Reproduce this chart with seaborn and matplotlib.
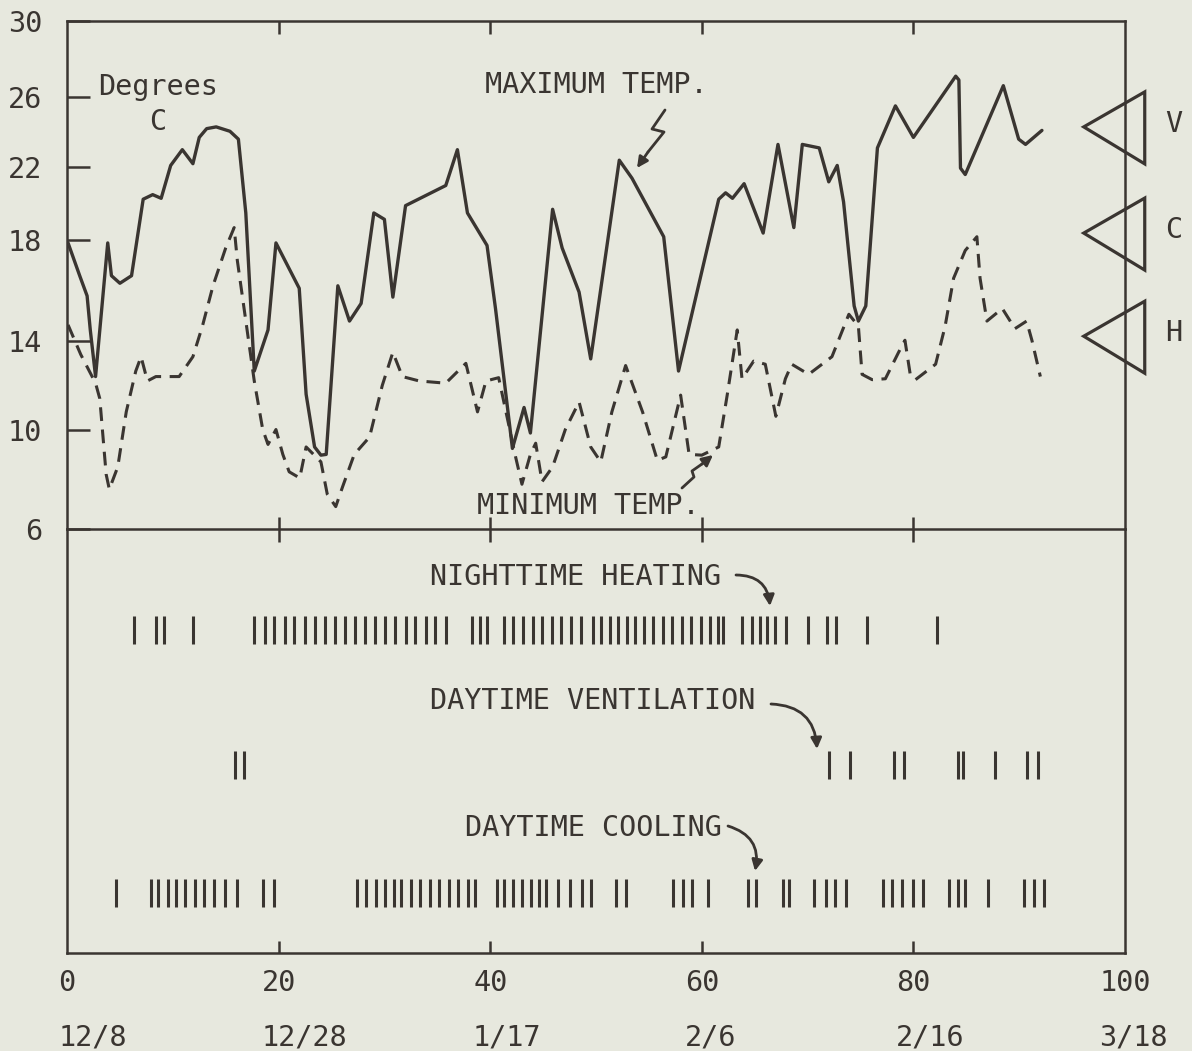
import numpy as np
import matplotlib
matplotlib.use("Agg")
import matplotlib.pyplot as plt
import seaborn as sns
from matplotlib.patches import Polygon
from matplotlib.lines import Line2D
from matplotlib import transforms

# ---- data (x = day, y = degrees C) ----
max_day = [0.1, 1.2, 1.9, 2.2, 2.7, 3.85, 4.2, 5.0, 6.1, 7.2, 8.1, 8.9, 9.8, 10.9, 11.9, 12.5,
           13.2, 14.1, 15.4, 16.2, 16.9, 17.7, 19.0, 19.75, 21.95, 22.6, 23.4, 24.0, 24.5, 25.6,
           26.7, 27.8, 29.0, 30.0, 30.8, 32.0, 35.8, 36.9, 37.85, 39.7, 40.5, 42.1, 43.2, 43.8,
           45.9, 46.8, 48.4, 49.5, 52.2, 53.4, 56.4, 57.8, 61.6, 62.25, 62.9, 64.0, 65.8, 67.2,
           68.7, 69.5, 71.1, 72.0, 72.8, 73.4, 74.4, 74.8, 75.5, 76.6, 78.3, 80.0, 84.0, 84.3,
           84.45, 84.9, 88.5, 89.95, 90.6, 92.15]
max_temp = [17.9, 16.6, 15.8, 14.45, 12.4, 17.9, 16.6, 16.3, 16.6, 20.25, 20.5, 20.3, 22.1, 23.0,
            22.2, 23.7, 24.2, 24.3, 24.05, 23.6, 19.5, 12.65, 14.45, 17.9, 16.1, 11.6, 9.3, 8.97,
            9.0, 16.2, 14.8, 15.5, 19.5, 19.15, 15.75, 19.9, 21.0, 23.0, 19.5, 17.8, 15.3, 9.24,
            11.0, 9.86, 19.7, 17.7, 15.95, 13.2, 22.4, 21.4, 18.2, 12.65, 20.25, 20.6, 20.3, 21.1,
            18.4, 23.3, 18.7, 23.3, 23.1, 21.2, 22.1, 20.1, 15.4, 14.8, 15.4, 23.1, 25.5, 23.7,
            27.1, 26.9, 21.95, 21.6, 26.6, 23.6, 23.3, 24.1]

min_day = [0.1, 1.3, 2.7, 3.1, 3.7, 4.0, 4.8, 5.6, 6.5, 7.0, 7.6, 8.4, 10.6, 11.9, 12.8, 13.8,
           15.0, 15.8, 16.1, 17.7, 18.5, 19.0, 19.75, 20.4, 21.0, 22.0, 22.6, 24.0, 24.6, 25.4,
           26.05, 27.15, 28.6, 29.8, 30.8, 31.7, 33.3, 35.8, 37.7, 38.8, 39.6, 40.8, 42.4, 43.0,
           43.8, 44.3, 44.9, 45.9, 47.1, 48.4, 49.5, 50.45, 51.5, 52.8, 54.4, 55.8, 56.6, 58.0,
           58.8, 60.0, 61.6, 62.4, 63.35, 63.8, 64.9, 66.0, 67.0, 67.9, 68.5, 70.1, 72.3, 73.9,
           74.8, 75.15, 76.1, 77.35, 78.6, 79.2, 79.7, 80.2, 82.1, 83.0, 83.8, 84.9, 86.0, 86.3,
           86.95, 88.4, 89.6, 90.7, 91.2, 92.0]
min_temp = [14.65, 13.4, 12.1, 11.4, 8.2, 7.6, 8.5, 10.8, 12.65, 13.3, 12.2, 12.4, 12.4, 13.3,
            14.6, 16.2, 17.7, 18.7, 17.2, 12.2, 10.0, 9.4, 10.0, 9.0, 8.3, 8.05, 9.3, 8.7, 7.4,
            6.9, 7.7, 9.0, 9.7, 12.0, 13.5, 12.4, 12.2, 12.1, 13.0, 10.8, 12.2, 12.35, 8.9, 7.8,
            9.0, 9.45, 7.9, 8.5, 10.0, 11.25, 9.3, 8.7, 10.8, 12.9, 10.8, 8.76, 8.9, 11.56, 9.0,
            8.97, 9.3, 11.56, 14.45, 12.3, 13.1, 12.96, 10.6, 12.3, 12.96, 12.5, 13.3, 15.07,
            14.6, 12.5, 12.26, 12.3, 13.5, 14.04, 12.5, 12.26, 12.96, 14.6, 16.5, 17.6, 18.2,
            16.5, 14.8, 15.3, 14.5, 14.8, 14.04, 12.4]

heating_days = [6.3, 8.4, 9.2, 11.9,
                17.7, 18.7, 19.6, 20.6, 21.5, 22.5, 23.4, 24.4, 25.3, 26.3, 27.2, 28.2, 29.1,
                30.1, 31.0, 32.0, 32.9, 33.9, 34.8, 35.8,
                38.3, 39.0, 39.7,
                41.3, 42.2, 43.1, 44.0, 44.9, 45.8, 46.7, 47.6, 48.6, 49.7, 50.5, 51.3, 52.1,
                52.9, 53.7, 54.5, 55.4, 56.3, 57.2, 58.1, 59.0, 59.9, 60.8, 61.5, 62.0,
                63.8, 64.75, 65.5, 66.2, 66.9, 68.0,
                70.0, 71.8, 72.7, 75.6, 82.2]
vent_days = [15.85, 16.76, 72.0, 74.0, 78.2, 79.1, 84.2, 84.7, 87.7, 90.7, 91.8]
cool_days = [4.65, 7.9, 8.6, 9.5, 10.3, 11.16, 12.06, 12.96, 13.86, 14.95, 16.03, 18.55, 19.6,
             27.4, 28.3, 29.2, 30.1, 30.9, 31.6, 32.5, 33.4, 34.3, 35.2, 36.1, 37.0, 37.9, 38.6,
             40.6, 41.3, 42.2, 43.0, 43.9, 44.6, 45.3, 46.4, 47.5, 48.7, 49.5, 51.9, 52.8,
             57.3, 58.2, 59.1, 60.6, 64.4, 65.1, 67.7, 68.2, 70.6, 71.7, 72.6, 73.6,
             77.1, 78.0, 78.9, 80.0, 80.9, 83.4, 84.2, 84.9, 87.05, 90.5, 91.4, 92.3]

setpoints = [24.3, 18.4, 14.2]
setpoint_labels = ["V", "C", "H"]

x_ticks = [0, 20, 40, 60, 80, 100]
x_dates = ["12/8", "12/28", "1/17", "2/6", "2/16", "3/18"]
y_ticks = [6, 10, 14, 18, 22, 26, 30]
# the hand drawn degree axis is not even: where each tick sits (px above the 6 line)
y_tick_pos = [0, 99.6, 188, 289, 362.3, 432.5, 508.7]

W, H = 1192, 1051
BG = "#e7e8de"
INK = "#3a3531"
FS = 20.5

sns.set_theme(style="white", rc={"axes.facecolor": BG, "figure.facecolor": BG,
                                 "axes.edgecolor": INK, "text.color": INK,
                                 "xtick.color": INK, "ytick.color": INK})
plt.rcParams["font.family"] = ["DejaVu Sans Mono", "DejaVu Sans"]


def fpx(x, y):
    # image pixel (from top-left) -> figure pixels
    return (x, H - y)


fig = plt.figure(figsize=(W / 100, H / 100), dpi=100)
ax_lo = fig.add_axes([67 / W, 1 - 953 / H, 1058 / W, 424 / H])
ax = fig.add_axes([67 / W, 1 - 529 / H, 1058 / W, 508 / H])
ax.set_facecolor("none")
ax_lo.set_facecolor("none")

# upper panel: temperatures
ax.set_yscale("function", functions=(lambda v: np.interp(v, y_ticks, y_tick_pos),
                                     lambda p: np.interp(p, y_tick_pos, y_ticks)))
sns.lineplot(x=max_day, y=max_temp, ax=ax, color=INK, lw=2.4, estimator=None, sort=False)
sns.lineplot(x=min_day, y=min_temp, ax=ax, color=INK, lw=2.2, estimator=None, sort=False,
             linestyle=(0, (4.5, 2.8)))
ax.set_xlim(0, 100)
ax.set_ylim(6, 30)
ax.set_yticks(y_ticks)
ax.set_yticklabels([str(t) for t in y_ticks])
ax.set_xticks([20, 40, 60, 80])
ax.tick_params(axis="y", direction="in", length=16.5, width=1.8, pad=18, labelsize=FS,
               left=True, right=False)
ax.tick_params(axis="x", direction="in", length=9, width=1.8, top=True, bottom=True,
               labelbottom=False)
ax.set_xlabel("")
ax.set_ylabel("")
for s in ax.spines.values():
    s.set_color(INK)
    s.set_linewidth(1.8)

# lower panel: equipment operation marks
rows_y = {"heat": 0.762, "vent": 0.443, "cool": 0.142}
for days, key in [(heating_days, "heat"), (vent_days, "vent"), (cool_days, "cool")]:
    sns.scatterplot(x=days, y=[rows_y[key]] * len(days), ax=ax_lo, marker="|", s=420,
                    linewidth=2.2, color=INK, edgecolor=INK)
ax_lo.set_xlim(0, 100)
ax_lo.set_ylim(0, 1)
ax_lo.set_yticks([])
ax_lo.set_xticks([20, 40, 60, 80])
ax_lo.tick_params(axis="x", direction="in", length=9, width=1.8, top=True, bottom=True,
                  labelbottom=False)
ax_lo.set_xlabel("")
ax_lo.set_ylabel("")
ax_lo.spines["top"].set_visible(False)
for s in ["left", "right", "bottom"]:
    ax_lo.spines[s].set_color(INK)
    ax_lo.spines[s].set_linewidth(1.8)

# bottom tick labels: day number and date
blend = transforms.blended_transform_factory(ax_lo.transData, ax_lo.transAxes)
for d, lab in zip(x_ticks, x_dates):
    ax_lo.text(d, -0.071, str(d), transform=blend, ha="center", va="center", fontsize=FS)
    tr = transforms.offset_copy(blend, fig=fig, x=-len(str(d)) * 8.7, y=0, units="dots")
    ax_lo.text(d, -0.200, lab, transform=tr, ha="left", va="center", fontsize=FS)

# annotations in the upper panel
fig.text(98 / W, 1 - 95 / H, "Degrees", ha="left", va="baseline", fontsize=FS)
fig.text(158 / W, 1 - 122 / H, "C", ha="center", va="center", fontsize=FS)
fig.text(596 / W, 1 - 85 / H, "MAXIMUM TEMP.", ha="center", va="center", fontsize=FS)
fig.text(588 / W, 1 - 506 / H, "MINIMUM TEMP.", ha="center", va="center", fontsize=FS)

arrow_kw = dict(arrowstyle="-|>", color=INK, lw=2.0, mutation_scale=16, shrinkA=0, shrinkB=0)
zig = [(665, 110), (652, 129), (664, 132), (648, 152)]
fig.add_artist(Line2D([p[0] / W for p in zig], [1 - p[1] / H for p in zig],
                      transform=fig.transFigure, color=INK, lw=2.0))
ax.annotate("", xy=fpx(637, 168), xytext=fpx(648, 152), xycoords="figure pixels",
            textcoords="figure pixels", arrowprops=arrow_kw)
zig2 = [(682, 488), (694, 477), (692, 471), (702, 464)]
fig.add_artist(Line2D([p[0] / W for p in zig2], [1 - p[1] / H for p in zig2],
                      transform=fig.transFigure, color=INK, lw=2.0))
ax.annotate("", xy=fpx(713, 455), xytext=fpx(702, 464), xycoords="figure pixels",
            textcoords="figure pixels", arrowprops=arrow_kw)

# set point triangles on the right edge
for sp, lab in zip(setpoints, setpoint_labels):
    axp, ayp = ax.transData.transform((96.1, sp))
    tri = Polygon([[axp, ayp], [axp + 61, ayp + 35], [axp + 61, ayp - 37]], closed=True,
                  fill=False, edgecolor=INK, lw=2.3, transform=transforms.IdentityTransform())
    fig.add_artist(tri)
    fig.text((axp + 90) / W, (ayp + 3) / H, lab, ha="center", va="center", fontsize=FS)

# labels in the lower panel with their curved arrows
fig.text(430 / W, 1 - 577 / H, "NIGHTTIME HEATING", ha="left", va="center", fontsize=FS)
fig.text(430 / W, 1 - 701 / H, "DAYTIME VENTILATION", ha="left", va="center", fontsize=FS)
fig.text(465 / W, 1 - 828 / H, "DAYTIME COOLING", ha="left", va="center", fontsize=FS)
for start, tip in [((736, 575), (770, 606)), ((771, 704), (817, 749)), ((728, 826), (755, 871))]:
    ax_lo.annotate("", xy=fpx(*tip), xytext=fpx(*start), xycoords="figure pixels",
                   textcoords="figure pixels",
                   arrowprops=dict(arrow_kw, connectionstyle="arc3,rad=-0.45"))

fig.savefig("out.png", dpi=100, facecolor=BG)
